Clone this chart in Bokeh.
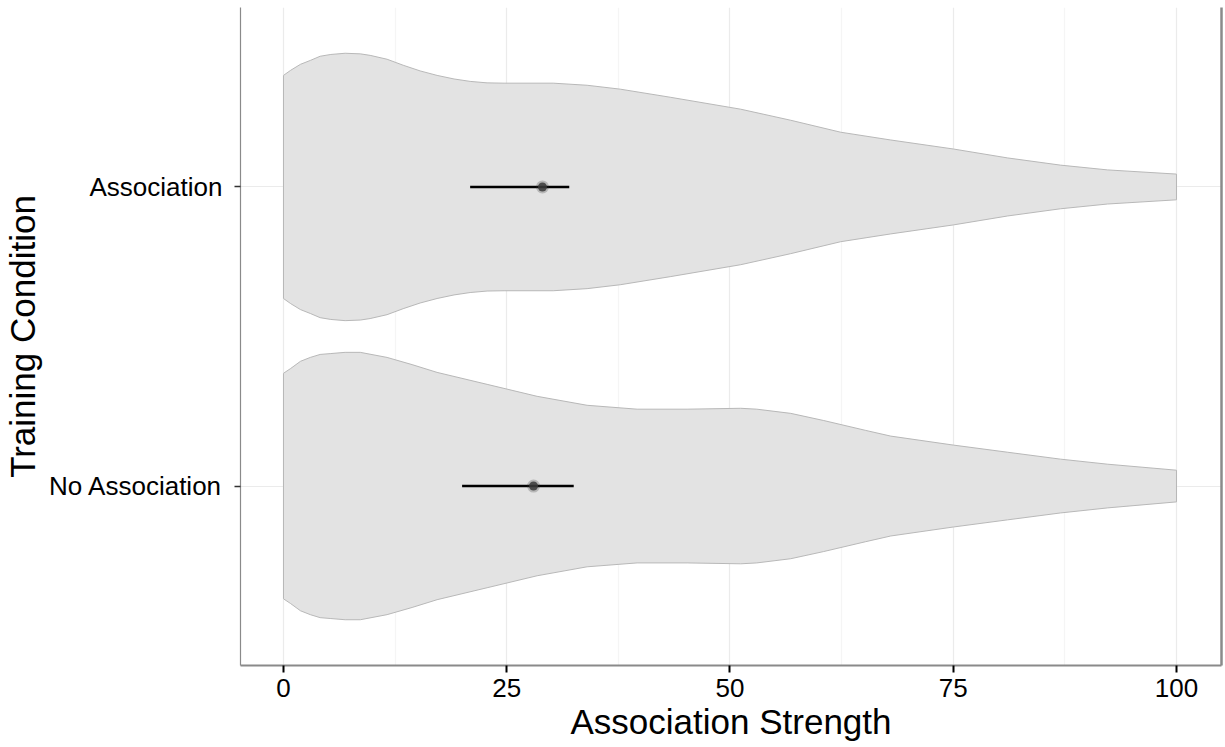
import numpy as np
from bokeh.plotting import figure
from bokeh.models import Range1d, FixedTicker, LinearAxis
from bokeh.embed import file_html
from bokeh.resources import INLINE

# ---- data ----
categories = ["No Association", "Association"]
cat_pos = [1, 2]

# violin profile (half-width in category units)
assoc_x = [0, 0.8, 1.9, 3.0, 4.1, 5.3, 6.9, 8.6, 9.7, 11.6, 13.4, 15.3, 17.2,
           19.1, 20.9, 22.8, 24.7, 30.2, 34.0, 37.7, 43.3, 51.2, 56.8, 62.4,
           68.0, 75.0, 81.1, 87.0, 92.3, 100]
assoc_hw = [0.373, 0.390, 0.410, 0.423, 0.437, 0.443, 0.447, 0.445, 0.440,
            0.427, 0.407, 0.388, 0.373, 0.361, 0.353, 0.348, 0.347, 0.347,
            0.340, 0.327, 0.300, 0.260, 0.223, 0.183, 0.157, 0.127, 0.097,
            0.073, 0.057, 0.043]

noassoc_x = [0, 0.8, 1.9, 3.0, 4.1, 5.3, 6.9, 8.6, 11.6, 14.4, 17.2, 22.8,
             28.4, 34.0, 39.6, 45.2, 51.2, 53.0, 56.8, 60.5, 65.2, 68.0, 75.0,
             81.1, 87.0, 92.3, 100]
noassoc_hw = [0.377, 0.393, 0.417, 0.430, 0.440, 0.443, 0.447, 0.447, 0.430,
              0.406, 0.380, 0.340, 0.300, 0.270, 0.257, 0.257, 0.260, 0.257,
              0.243, 0.219, 0.186, 0.167, 0.137, 0.113, 0.090, 0.073, 0.053]

means = [28.0, 29.0]
ci_low = [20.0, 20.9]
ci_high = [32.5, 32.0]

x_ticks = [0, 25, 50, 75, 100]
x_minor = [12.5, 37.5, 62.5, 87.5]

FONT = "Liberation Sans"

p = figure(width=1225, height=747,
           x_range=Range1d(-4.815, 105.04), y_range=Range1d(0.4, 2.6),
           output_backend="svg", toolbar_location=None,
           min_border_left=240, min_border_right=4, min_border_top=7,
           min_border_bottom=82)
p.outline_line_color = None
p.background_fill_color = "white"
p.border_fill_color = "white"

# grids
p.xaxis.ticker = FixedTicker(ticks=x_ticks, minor_ticks=x_minor)
p.yaxis.ticker = FixedTicker(ticks=cat_pos)
p.xgrid.grid_line_color = "#ebebeb"
p.xgrid.grid_line_width = 1.2
p.xgrid.minor_grid_line_color = "#f5f5f5"
p.xgrid.minor_grid_line_width = 1.2
p.ygrid.grid_line_color = "#ebebeb"
p.ygrid.grid_line_width = 1.2

# violins
for c, xs, hw in [(2, assoc_x, assoc_hw), (1, noassoc_x, noassoc_hw)]:
    xs = np.array(xs, dtype=float)
    hw = np.array(hw, dtype=float)
    px = np.concatenate([xs, xs[::-1]])
    py = np.concatenate([c + hw, (c - hw)[::-1]])
    p.patch(px, py, fill_color="#e3e3e3", line_color="#b8b8b8", line_width=1)

# error bars and points
p.segment(x0=ci_low, x1=ci_high, y0=cat_pos, y1=cat_pos,
          line_color="black", line_width=2.6)
p.scatter(means, cat_pos, size=13, fill_color="#333333", fill_alpha=0.25,
          line_color=None)
p.scatter(means, cat_pos, size=9, fill_color="#3a3a3a", fill_alpha=0.85,
          line_color=None)

# axes styling
xa = p.xaxis[0]
xa.axis_label = "Association Strength"
xa.axis_line_color = "#8a8a8a"
xa.axis_line_width = 2
xa.major_tick_line_color = "black"
xa.major_tick_line_width = 2
xa.major_tick_out = 7
xa.major_tick_in = 0
xa.minor_tick_line_color = None
xa.major_label_text_font = FONT
xa.major_label_text_font_size = "26px"
xa.major_label_text_color = "black"
xa.major_label_standoff = 6
xa.axis_label_text_font = FONT
xa.axis_label_text_font_size = "35px"
xa.axis_label_text_font_style = "normal"
xa.axis_label_text_color = "black"
xa.axis_label_standoff = 2

ya = p.yaxis[0]
ya.axis_label = "Training Condition"
ya.major_label_overrides = {1: categories[0], 2: categories[1]}
ya.axis_line_color = "#8a8a8a"
ya.axis_line_width = 1.2
ya.major_tick_line_color = "#333333"
ya.major_tick_line_width = 1.5
ya.major_tick_out = 6
ya.major_tick_in = 0
ya.minor_tick_line_color = None
ya.major_label_text_font = FONT
ya.major_label_text_font_size = "26px"
ya.major_label_text_color = "black"
ya.major_label_standoff = 12
ya.axis_label_text_font = FONT
ya.axis_label_text_font_size = "35px"
ya.axis_label_text_font_style = "normal"
ya.axis_label_text_color = "black"
ya.axis_label_standoff = 4

# right border line of the panel
ra = LinearAxis(ticker=FixedTicker(ticks=[]), axis_line_color="#8a8a8a",
                axis_line_width=2.5, major_tick_line_color=None,
                minor_tick_line_color=None, major_label_text_font_size="0px",
                major_tick_out=0, major_label_standoff=0)
p.add_layout(ra, "right")

open("out.html", "w").write(file_html(p, INLINE))
